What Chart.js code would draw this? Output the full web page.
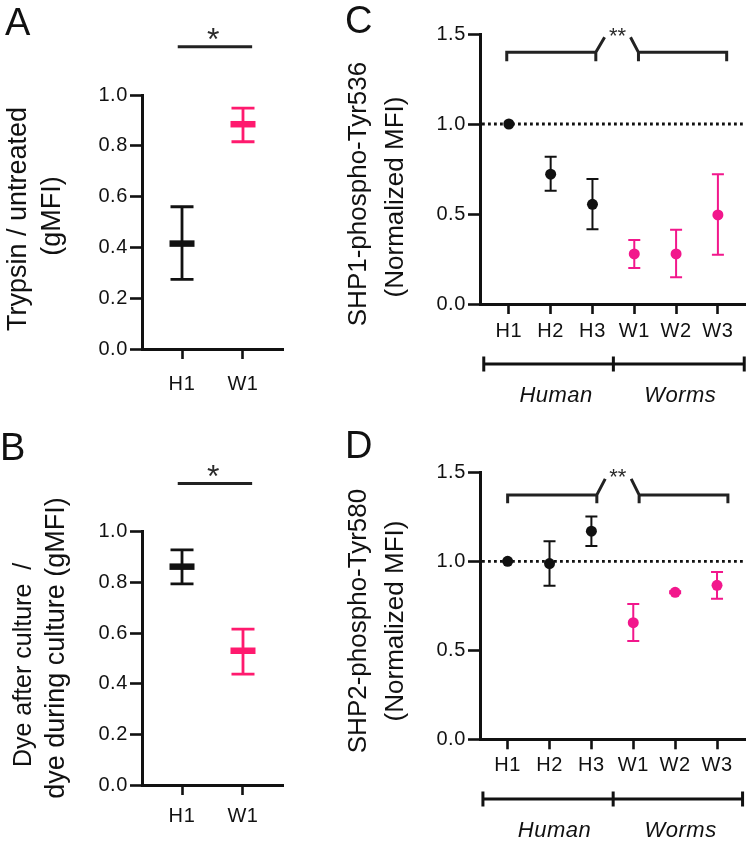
<!DOCTYPE html>
<html>
<head>
<meta charset="utf-8">
<script src="https://cdn.jsdelivr.net/npm/chart.js@4.4.1/dist/chart.umd.min.js"></script>
<style>
  html, body { margin: 0; padding: 0; background: #fff; }
  body { width: 751px; height: 843px; position: relative; overflow: hidden; }
  canvas { position: absolute; }
</style>
</head>
<body>
<canvas id="chart-a" width="340" height="420" style="left:0;top:0"></canvas>
<canvas id="chart-c" width="411" height="420" style="left:340px;top:0"></canvas>
<canvas id="chart-b" width="340" height="423" style="left:0;top:420px"></canvas>
<canvas id="chart-d" width="411" height="423" style="left:340px;top:420px"></canvas>
<script>
// panel A / B: two donors, mean with range
const pairLabels = ["H1", "W1"]
const trypsinMean = [0.415, 0.885]
const trypsinLow = [0.274, 0.816]
const trypsinHigh = [0.560, 0.948]

const dyeMean = [0.862, 0.530]
const dyeLow = [0.794, 0.438]
const dyeHigh = [0.928, 0.615]

const pairTicks = [0, 0.2, 0.4, 0.6, 0.8, 1.0]

// panel C / D: six donors
const donorLabels = ["H1", "H2", "H3", "W1", "W2", "W3"]
const shp1Mean = [1.0, 0.721, 0.554, 0.278, 0.278, 0.495]
const shp1Low = [null, 0.629, 0.415, 0.200, 0.148, 0.273]
const shp1High = [null, 0.818, 0.695, 0.356, 0.412, 0.721]

const shp2Mean = [1.0, 0.987, 1.169, 0.655, 0.826, 0.865]
const shp2Low = [null, 0.863, 1.086, 0.552, 0.820, 0.790]
const shp2High = [null, 1.112, 1.251, 0.760, 0.832, 0.940]

const donorTicks = [0, 0.5, 1.0, 1.5]
const groupLabels = ["Human", "Worms"]

const FONT = "'Liberation Sans', Arial, Helvetica, sans-serif"
const INK = "#111"
const PINK_AB = "#ff1a6e"
const PINK_CD = "#f2178c"

const colorsFor = (labels, pink) => labels.map(l => l.startsWith("W") ? pink : INK)

const panelPlugin = (p) => ({
  id: "panel",
  beforeDatasetsDraw(chart) {
    const { ctx, chartArea, scales: { x, y } } = chart
    ctx.save()
    if (p.refLine != null) {
      const yy = y.getPixelForValue(p.refLine)
      ctx.strokeStyle = INK
      ctx.lineWidth = 2.8
      ctx.setLineDash([2.8, 3.2])
      ctx.beginPath()
      ctx.moveTo(chartArea.left + 2, yy)
      ctx.lineTo(chartArea.right, yy)
      ctx.stroke()
      ctx.setLineDash([])
    }
    p.mean.forEach((m, i) => {
      if (p.low[i] == null) return
      const px = x.getPixelForValue(i + 1)
      const yl = y.getPixelForValue(p.low[i])
      const yh = y.getPixelForValue(p.high[i])
      ctx.strokeStyle = p.colors[i]
      ctx.lineWidth = p.whisker
      ctx.beginPath()
      ctx.moveTo(px, yl); ctx.lineTo(px, yh)
      ctx.moveTo(px - p.cap, yl); ctx.lineTo(px + p.cap, yl)
      ctx.moveTo(px - p.cap, yh); ctx.lineTo(px + p.cap, yh)
      ctx.stroke()
    })
    ctx.restore()
  },
  afterDraw(chart) {
    const { ctx, chartArea, scales: { x, y } } = chart
    ctx.save()
    ctx.letterSpacing = "0px"
    ctx.fillStyle = INK
    ctx.strokeStyle = "#222"

    // panel letter
    ctx.font = `38px ${FONT}`
    ctx.textAlign = "left"
    ctx.textBaseline = "alphabetic"
    ctx.fillText(p.letter.text, p.letter.x, p.letter.y)

    // y title, rotated
    ctx.textAlign = "center"
    p.titles.forEach(t => {
      ctx.save()
      ctx.font = `${t.size}px ${FONT}`
      ctx.translate(t.x, t.y)
      ctx.rotate(-Math.PI / 2)
      ctx.fillText(t.text, 0, 0)
      ctx.restore()
    })

    // significance
    const s = p.sig
    ctx.lineWidth = 3
    ctx.lineCap = "butt"
    if (s.kind === "line") {
      const yy = y.getPixelForValue(s.y)
      ctx.beginPath()
      ctx.moveTo(x.getPixelForValue(s.from), yy)
      ctx.lineTo(x.getPixelForValue(s.to), yy)
      ctx.stroke()
    } else {
      const yb = y.getPixelForValue(s.y)
      const yf = y.getPixelForValue(s.foot)
      const yp = y.getPixelForValue(s.peak)
      const X = v => x.getPixelForValue(v)
      ctx.beginPath()
      ctx.moveTo(X(s.xs[0]), yf); ctx.lineTo(X(s.xs[0]), yb); ctx.lineTo(X(s.xs[1]), yb); ctx.lineTo(X(s.xs[1]), yf)
      ctx.moveTo(X(s.xs[1]), yb); ctx.lineTo(X(s.xs[2]), yp)
      ctx.moveTo(X(s.xs[5]), yf); ctx.lineTo(X(s.xs[5]), yb); ctx.lineTo(X(s.xs[4]), yb); ctx.lineTo(X(s.xs[4]), yf)
      ctx.moveTo(X(s.xs[4]), yb); ctx.lineTo(X(s.xs[3]), yp)
      ctx.stroke()
    }
    ctx.fillStyle = "#2a2a2a"
    ctx.font = `${s.starSize}px ${FONT}`
    ctx.textAlign = "center"
    ctx.fillText(s.stars, x.getPixelForValue(s.starX), y.getPixelForValue(s.y) + s.starDy)

    // group bars under the x axis
    if (p.groups) {
      const g = p.groups
      const gy = chartArea.bottom + g.dy
      ctx.strokeStyle = INK
      ctx.lineWidth = 3
      ctx.beginPath()
      ctx.moveTo(x.getPixelForValue(g.edges[0]), gy)
      ctx.lineTo(x.getPixelForValue(g.edges[g.edges.length - 1]), gy)
      g.edges.forEach(e => {
        const ex = x.getPixelForValue(e)
        ctx.moveTo(ex, gy - 7.5); ctx.lineTo(ex, gy + 7.5)
      })
      ctx.stroke()
      ctx.fillStyle = INK
      ctx.font = `italic 22px ${FONT}`
      ctx.letterSpacing = "0.5px"
      groupLabels.forEach((lab, i) => {
        ctx.fillText(lab, x.getPixelForValue(g.centers[i]), chartArea.bottom + g.textDy)
      })
    }
    ctx.restore()
  }
})

const makeChart = (id, p) => {
  const tickFont = { family: FONT, size: 20 }
  return new Chart(document.getElementById(id), {
    type: "scatter",
    data: {
      datasets: [{
        data: p.mean.map((m, i) => ({ x: i + 1, y: m })),
        ...p.point
      }]
    },
    options: {
      responsive: false,
      animation: false,
      events: [],
      clip: false,
      layout: { padding: p.padding },
      plugins: { legend: { display: false }, tooltip: { enabled: false } },
      scales: {
        x: {
          type: "linear",
          min: p.xRange[0],
          max: p.xRange[1],
          afterFit: sc => { sc.height = p.xHeight },
          afterBuildTicks: sc => { sc.ticks = p.labels.map((l, i) => ({ value: i + 1 })) },
          ticks: {
            color: INK, font: tickFont, padding: p.xPad, autoSkip: false, maxRotation: 0,
            callback: v => p.labels[Math.round(v) - 1]
          },
          grid: { drawOnChartArea: false, tickLength: 10, tickWidth: 2.6, color: INK },
          border: { color: INK, width: 3 }
        },
        y: {
          min: 0,
          max: p.yMax,
          afterFit: sc => { sc.width = p.yWidth },
          afterBuildTicks: sc => { sc.ticks = p.yTicks.map(v => ({ value: v })) },
          ticks: { color: INK, font: tickFont, padding: 2, callback: v => Number(v).toFixed(1) },
          grid: { drawOnChartArea: false, tickLength: 12, tickWidth: 2.6, color: INK },
          border: { color: INK, width: 3 }
        }
      }
    },
    plugins: [
      { id: "spacing", beforeDraw: c => { c.ctx.letterSpacing = "0.6px" } },
      panelPlugin(p)
    ]
  })
}

const meanBar = colors => ({
  pointStyle: "line", pointRadius: 12.5, pointBorderWidth: 6.5,
  pointBorderColor: colors, pointBackgroundColor: colors
})
const dot = colors => ({
  pointStyle: "circle", pointRadius: 5.5, pointBorderWidth: 0,
  pointBackgroundColor: colors, pointBorderColor: colors
})

const pairColors = colorsFor(pairLabels, PINK_AB)
const donorColors = colorsFor(donorLabels, PINK_CD)

makeChart("chart-a", {
  labels: pairLabels, mean: trypsinMean, low: trypsinLow, high: trypsinHigh,
  colors: pairColors, point: meanBar(pairColors), whisker: 2.8, cap: 11.5,
  padding: { left: 0, top: 95, right: 57, bottom: 0 },
  xHeight: 71, yWidth: 142, xRange: [0.344, 2.656], xPad: 13, yMax: 1.0, yTicks: pairTicks,
  letter: { text: "A", x: 5, y: 35 },
  titles: [
    { text: "Trypsin / untreated", x: 26, y: 219, size: 27 },
    { text: "(gMFI)", x: 60, y: 216, size: 27 }
  ],
  sig: { kind: "line", y: 1.19, from: 0.93, to: 2.15, stars: "*", starX: 1.51, starDy: 3, starSize: 32 }
})

makeChart("chart-b", {
  labels: pairLabels, mean: dyeMean, low: dyeLow, high: dyeHigh,
  colors: pairColors, point: meanBar(pairColors), whisker: 2.8, cap: 11.5,
  padding: { left: 0, top: 111.7, right: 57, bottom: 0 },
  xHeight: 58, yWidth: 142, xRange: [0.344, 2.656], xPad: 9, yMax: 1.0, yTicks: pairTicks,
  letter: { text: "B", x: 0, y: 40 },
  titles: [
    { text: "Dye after culture  /", x: 31, y: 245, size: 25 },
    { text: "dye during culture (gMFI)", x: 64, y: 228, size: 27 }
  ],
  sig: { kind: "line", y: 1.19, from: 0.93, to: 2.15, stars: "*", starX: 1.51, starDy: 3, starSize: 32 }
})

makeChart("chart-c", {
  labels: donorLabels, mean: shp1Mean, low: shp1Low, high: shp1High,
  colors: donorColors, point: dot(donorColors), whisker: 2, cap: 6, refLine: 1.0,
  padding: { left: 0, top: 34, right: 3, bottom: 0 },
  xHeight: 116, yWidth: 140, xRange: [0.31, 6.66], xPad: 5, yMax: 1.5, yTicks: donorTicks,
  letter: { text: "C", x: 5, y: 33 },
  titles: [
    { text: "SHP1-phospho-Tyr536", x: 26, y: 194, size: 26 },
    { text: "(Normalized MFI)", x: 63, y: 197, size: 26 }
  ],
  sig: {
    kind: "bracket", y: 1.398, foot: 1.348, peak: 1.482,
    xs: [0.95, 3.08, 3.29, 3.91, 4.10, 6.21],
    stars: "**", starX: 3.6, starDy: -9, starSize: 22
  },
  groups: { dy: 60, textDy: 98, edges: [0.40, 3.50, 6.63], centers: [2.13, 5.10] }
})

makeChart("chart-d", {
  labels: donorLabels, mean: shp2Mean, low: shp2Low, high: shp2High,
  colors: donorColors, point: dot(donorColors), whisker: 2, cap: 6, refLine: 1.0,
  padding: { left: 0, top: 52.3, right: 4.3, bottom: 0 },
  xHeight: 103.7, yWidth: 140, xRange: [0.34, 6.68], xPad: 4, yMax: 1.5, yTicks: donorTicks,
  letter: { text: "D", x: 5, y: 38 },
  titles: [
    { text: "SHP2-phospho-Tyr580", x: 26, y: 201, size: 26 },
    { text: "(Normalized MFI)", x: 63, y: 201, size: 26 }
  ],
  sig: {
    kind: "bracket", y: 1.373, foot: 1.326, peak: 1.463,
    xs: [1.0, 3.13, 3.33, 3.95, 4.14, 6.26],
    stars: "**", starX: 3.63, starDy: -11, starSize: 22
  },
  groups: { dy: 59.7, textDy: 97.4, edges: [0.41, 3.52, 6.61], centers: [2.12, 5.13] }
})
</script>
</body>
</html>
